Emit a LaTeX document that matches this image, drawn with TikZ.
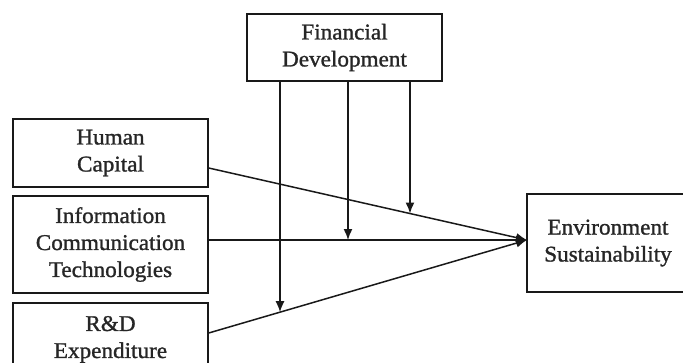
\documentclass[tikz,border=0pt]{standalone}
\usepackage{fontspec}
\newfontfamily\boxfont{Liberation Serif}[FakeStretch=1.03,FakeBold=1.2]
\usetikzlibrary{arrows.meta,calc}
\begin{document}
\begin{tikzpicture}[x=1pt,y=-1pt,
  box/.style={draw=black!90,line width=1.4pt,rectangle,inner sep=0pt,align=center,
    font=\boxfont\fontsize{22.5}{27}\selectfont,text=black!85},
  conn/.style={draw=black!90,line width=1.5pt,-{Latex[length=11pt,width=9pt]}}]
\useasboundingbox (0,0) rectangle (683,362);
\node[box,minimum width=195pt,minimum height=67pt] (FD) at (344.5,47.5) {Financial\\Development};
\node[box,minimum width=195pt,minimum height=68pt] (HC) at (110.5,153) {Human\\Capital};
\node[box,minimum width=195pt,minimum height=97pt] (ICT) at (110.5,244.5) {Information\\Communication\\Technologies};
\node[box,minimum width=195pt,minimum height=68pt,text depth=0pt] (RD) at (110.5,337) {R\&D\\Expenditure};
\node[box,minimum width=162pt,minimum height=98pt] (ENV) at (608,243) {Environment\\Sustainability};
\coordinate (tip) at (527,240);
\coordinate (hcs) at ([yshift=-15pt]HC.east);
\coordinate (rds) at ([yshift=4pt]RD.east);
\coordinate (icts) at (ICT.east |- tip);
\draw[conn] (hcs) -- (tip);
\draw[conn] (icts) -- (tip);
\draw[conn] (rds) -- (tip);
\coordinate (m1) at (intersection of rds--tip and 280,0--280,400);
\coordinate (m2) at (348,240);
\coordinate (m3) at (intersection of hcs--tip and 410,0--410,400);
\draw[conn] (FD.south -| m1) -- (m1);
\draw[conn] (FD.south -| m2) -- (m2);
\draw[conn] (FD.south -| m3) -- (m3);
\end{tikzpicture}
\end{document}
